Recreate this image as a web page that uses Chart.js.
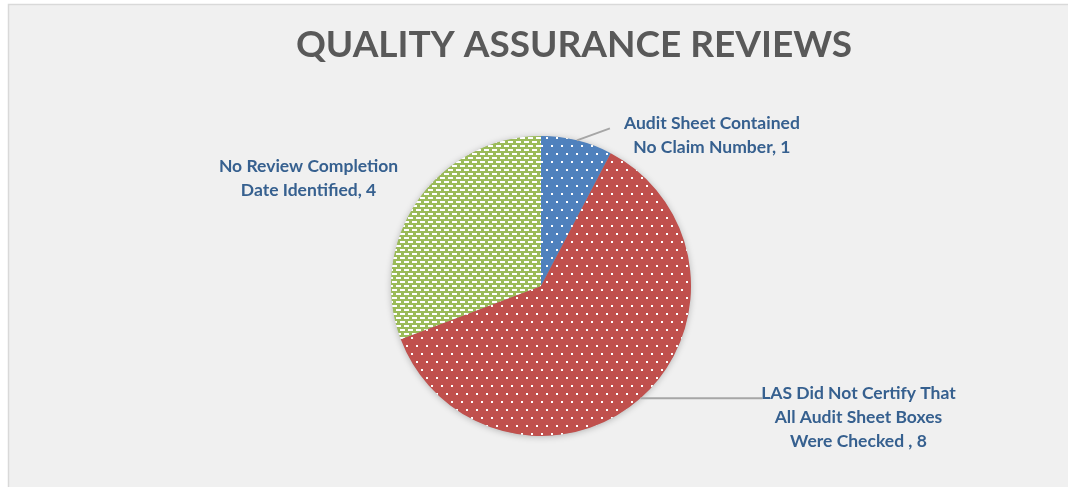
<!DOCTYPE html>
<html>
<head>
<meta charset="utf-8">
<script src="https://cdn.jsdelivr.net/npm/chart.js@4"></script>
<style>
  html, body { margin: 0; padding: 0; background: #ffffff; }
  #wrap { width: 1068px; height: 487px; }
</style>
</head>
<body>
<div id="wrap"><canvas id="qaPie" width="1068" height="487"></canvas></div>
<script>
// data
const chartTitle = 'QUALITY ASSURANCE REVIEWS';
const categories = [
  ['Audit Sheet Contained', 'No Claim Number'],
  ['LAS Did Not Certify That', 'All Audit Sheet Boxes', 'Were Checked '],
  ['No Review Completion', 'Date Identified']
];
const reviewCounts = [1, 8, 4];

// colours
const sliceColors = ['#4f81bd', '#c0504d', '#9bbb59'];
const labelColor = '#36608f';

// label placement relative to the slice's outer mid point
const labelLayout = [
  { dx: 135, dy: -17, leader: [33, -12] },
  { dx: 218, dy: -5, leader: [122, 0] },
  { dx: -109, dy: -34, leader: null }
];

// pattern fills (white dots / white dashes)
function dotPattern(bg) {
  let c = document.createElement('canvas');
  c.width = 10; c.height = 16;
  let x = c.getContext('2d');
  x.fillStyle = bg;
  x.fillRect(0, 0, 10, 16);
  x.fillStyle = '#ffffff';
  x.fillRect(1, 1, 2, 2);
  x.fillRect(6, 9, 2, 2);
  return x.createPattern(c, 'repeat');
}

function dashPattern(bg) {
  let c = document.createElement('canvas');
  c.width = 8; c.height = 8;
  let x = c.getContext('2d');
  x.fillStyle = bg;
  x.fillRect(0, 0, 8, 8);
  x.fillStyle = '#ffffff';
  x.fillRect(0, 1, 5, 2);
  x.fillRect(4, 5, 4, 2);
  x.fillRect(0, 5, 1, 2);
  return x.createPattern(c, 'repeat');
}

const sliceFills = [dotPattern(sliceColors[0]), dotPattern(sliceColors[1]), dashPattern(sliceColors[2])];

// frame + title
const framePlugin = {
  id: 'frame',
  beforeDraw(chart) {
    let ctx = chart.ctx;
    ctx.save();
    ctx.fillStyle = '#ffffff';
    ctx.fillRect(0, 0, chart.width, chart.height);
    ctx.fillStyle = '#f0f0f0';
    ctx.fillRect(8, 4, chart.width - 8, chart.height - 4);
    ctx.strokeStyle = '#d9d9d9';
    ctx.lineWidth = 1.5;
    ctx.beginPath();
    ctx.moveTo(8.5, chart.height);
    ctx.lineTo(8.5, 4.5);
    ctx.lineTo(chart.width, 4.5);
    ctx.stroke();

    ctx.fillStyle = '#595959';
    ctx.font = 'bold 37px Lato';
    ctx.textAlign = 'center';
    ctx.textBaseline = 'middle';
    ctx.fillText(chartTitle, 574, 45);
    ctx.restore();
  },
  // soft shadow under the pie
  beforeDatasetsDraw(chart) {
    let arc = chart.getDatasetMeta(0).data[0];
    if (!arc) return;
    let ctx = chart.ctx;
    ctx.save();
    ctx.shadowColor = 'rgba(0,0,0,0.28)';
    ctx.shadowBlur = 7;
    ctx.shadowOffsetY = 1;
    ctx.fillStyle = '#9a9a9a';
    ctx.beginPath();
    ctx.arc(arc.x, arc.y, arc.outerRadius - 0.5, 0, Math.PI * 2);
    ctx.fill();
    ctx.restore();
  }
};

// data labels with leader lines
const sliceLabelPlugin = {
  id: 'sliceLabels',
  afterDatasetsDraw(chart) {
    let ctx = chart.ctx;
    let meta = chart.getDatasetMeta(0);
    ctx.save();
    meta.data.forEach(function (arc, i) {
      let mid = (arc.startAngle + arc.endAngle) / 2;
      let ax = arc.x + arc.outerRadius * Math.cos(mid);
      let ay = arc.y + arc.outerRadius * Math.sin(mid);
      let lay = labelLayout[i];

      if (lay.leader) {
        ctx.strokeStyle = '#a6a6a6';
        ctx.lineWidth = 2;
        ctx.beginPath();
        ctx.moveTo(ax, ay);
        ctx.lineTo(ax + lay.leader[0], ay + lay.leader[1]);
        ctx.stroke();
      }

      let lines = categories[i].slice();
      lines[lines.length - 1] = lines[lines.length - 1] + ', ' + reviewCounts[i];
      ctx.fillStyle = labelColor;
      ctx.font = 'bold 17.5px Lato';
      ctx.textAlign = 'center';
      ctx.textBaseline = 'middle';
      lines.forEach(function (t, k) {
        ctx.fillText(t, ax + lay.dx, ay + lay.dy + k * 24);
      });
    });
    ctx.restore();
  }
};

let qaCtx = document.getElementById('qaPie');

let qaConfig = {
  type: 'pie',
  data: {
    labels: categories,
    datasets: [{
      data: reviewCounts,
      backgroundColor: sliceFills,
      borderWidth: 0
    }]
  },
  options: {
    responsive: false,
    animation: false,
    events: [],
    layout: {
      padding: { left: 391, right: 377, top: 136, bottom: 51 }
    },
    plugins: {
      legend: { display: false },
      tooltip: { enabled: false },
      title: { display: false }
    }
  },
  plugins: [framePlugin, sliceLabelPlugin]
};

let qaChart = new Chart(qaCtx, qaConfig);
</script>
</body>
</html>
